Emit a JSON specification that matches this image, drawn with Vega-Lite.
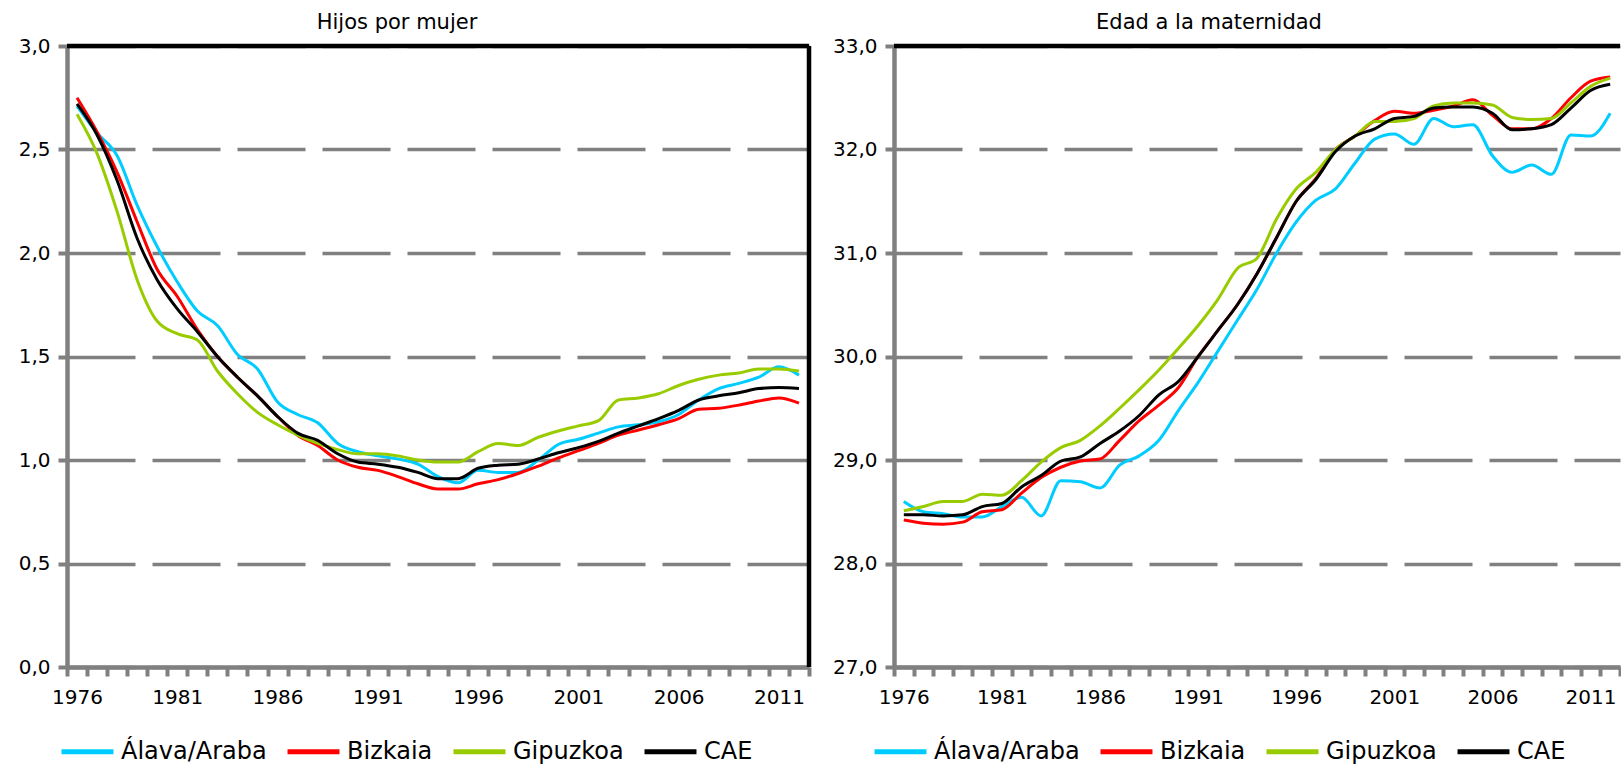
{
  "$schema": "https://vega.github.io/schema/vega-lite/v6.json",
  "background": "white",
  "padding": {"left": 18, "top": 12, "right": 0, "bottom": 0},
  "spacing": 20,
  "config": {
    "font": "DejaVu Sans",
    "view": {"stroke": null},
    "axis": {"labelFont": "DejaVu Sans", "labelFontSize": 20, "labelColor": "black", "domainColor": "#808080", "domainWidth": 4.5, "tickColor": "#808080", "tickWidth": 4, "tickSize": 9, "title": null},
    "legend": {"orient": "none", "direction": "horizontal", "title": null, "symbolType": "stroke", "symbolSize": 2700, "symbolStrokeWidth": 5, "labelFont": "DejaVu Sans", "labelFontSize": 24, "labelColor": "black", "labelOffset": 5, "columnPadding": 10, "labelLimit": 400},
    "title": {"font": "DejaVu Sans", "fontSize": 21, "fontWeight": "normal", "color": "black", "anchor": "middle", "frame": "group", "offset": 3}
  },
  "resolve": {"legend": {"color": "independent"}},
  "datasets": {
    "tfr": [
      {"year": 1976, "Álava/Araba": 2.71, "Bizkaia": 2.75, "Gipuzkoa": 2.67, "CAE": 2.72},
      {"year": 1977, "Álava/Araba": 2.58, "Bizkaia": 2.585, "Gipuzkoa": 2.48, "CAE": 2.57},
      {"year": 1978, "Álava/Araba": 2.47, "Bizkaia": 2.39, "Gipuzkoa": 2.20, "CAE": 2.35},
      {"year": 1979, "Álava/Araba": 2.23, "Bizkaia": 2.15, "Gipuzkoa": 1.87, "CAE": 2.07},
      {"year": 1980, "Álava/Araba": 2.03, "Bizkaia": 1.92, "Gipuzkoa": 1.67, "CAE": 1.87},
      {"year": 1981, "Álava/Araba": 1.86, "Bizkaia": 1.79, "Gipuzkoa": 1.61, "CAE": 1.73},
      {"year": 1982, "Álava/Araba": 1.72, "Bizkaia": 1.63, "Gipuzkoa": 1.58, "CAE": 1.62},
      {"year": 1983, "Álava/Araba": 1.65, "Bizkaia": 1.50, "Gipuzkoa": 1.43, "CAE": 1.50},
      {"year": 1984, "Álava/Araba": 1.51, "Bizkaia": 1.40, "Gipuzkoa": 1.32, "CAE": 1.40},
      {"year": 1985, "Álava/Araba": 1.44, "Bizkaia": 1.31, "Gipuzkoa": 1.23, "CAE": 1.31},
      {"year": 1986, "Álava/Araba": 1.28, "Bizkaia": 1.21, "Gipuzkoa": 1.17, "CAE": 1.21},
      {"year": 1987, "Álava/Araba": 1.22, "Bizkaia": 1.12, "Gipuzkoa": 1.12, "CAE": 1.13},
      {"year": 1988, "Álava/Araba": 1.18, "Bizkaia": 1.07, "Gipuzkoa": 1.08, "CAE": 1.095},
      {"year": 1989, "Álava/Araba": 1.08, "Bizkaia": 1.00, "Gipuzkoa": 1.05, "CAE": 1.03},
      {"year": 1990, "Álava/Araba": 1.04, "Bizkaia": 0.965, "Gipuzkoa": 1.03, "CAE": 0.99},
      {"year": 1991, "Álava/Araba": 1.02, "Bizkaia": 0.95, "Gipuzkoa": 1.03, "CAE": 0.98},
      {"year": 1992, "Álava/Araba": 1.005, "Bizkaia": 0.92, "Gipuzkoa": 1.02, "CAE": 0.965},
      {"year": 1993, "Álava/Araba": 0.98, "Bizkaia": 0.885, "Gipuzkoa": 1.00, "CAE": 0.94},
      {"year": 1994, "Álava/Araba": 0.92, "Bizkaia": 0.86, "Gipuzkoa": 0.99, "CAE": 0.91},
      {"year": 1995, "Álava/Araba": 0.89, "Bizkaia": 0.86, "Gipuzkoa": 0.99, "CAE": 0.91},
      {"year": 1996, "Álava/Araba": 0.95, "Bizkaia": 0.885, "Gipuzkoa": 1.04, "CAE": 0.96},
      {"year": 1997, "Álava/Araba": 0.94, "Bizkaia": 0.905, "Gipuzkoa": 1.08, "CAE": 0.975},
      {"year": 1998, "Álava/Araba": 0.94, "Bizkaia": 0.935, "Gipuzkoa": 1.07, "CAE": 0.98},
      {"year": 1999, "Álava/Araba": 1.00, "Bizkaia": 0.97, "Gipuzkoa": 1.11, "CAE": 1.005},
      {"year": 2000, "Álava/Araba": 1.075, "Bizkaia": 1.01, "Gipuzkoa": 1.14, "CAE": 1.035},
      {"year": 2001, "Álava/Araba": 1.10, "Bizkaia": 1.045, "Gipuzkoa": 1.165, "CAE": 1.06},
      {"year": 2002, "Álava/Araba": 1.13, "Bizkaia": 1.08, "Gipuzkoa": 1.19, "CAE": 1.09},
      {"year": 2003, "Álava/Araba": 1.16, "Bizkaia": 1.12, "Gipuzkoa": 1.29, "CAE": 1.13},
      {"year": 2004, "Álava/Araba": 1.17, "Bizkaia": 1.145, "Gipuzkoa": 1.30, "CAE": 1.165},
      {"year": 2005, "Álava/Araba": 1.185, "Bizkaia": 1.17, "Gipuzkoa": 1.32, "CAE": 1.20},
      {"year": 2006, "Álava/Araba": 1.22, "Bizkaia": 1.20, "Gipuzkoa": 1.36, "CAE": 1.24},
      {"year": 2007, "Álava/Araba": 1.29, "Bizkaia": 1.245, "Gipuzkoa": 1.39, "CAE": 1.29},
      {"year": 2008, "Álava/Araba": 1.345, "Bizkaia": 1.25, "Gipuzkoa": 1.41, "CAE": 1.31},
      {"year": 2009, "Álava/Araba": 1.37, "Bizkaia": 1.265, "Gipuzkoa": 1.42, "CAE": 1.325},
      {"year": 2010, "Álava/Araba": 1.40, "Bizkaia": 1.285, "Gipuzkoa": 1.44, "CAE": 1.345},
      {"year": 2011, "Álava/Araba": 1.45, "Bizkaia": 1.30, "Gipuzkoa": 1.44, "CAE": 1.35},
      {"year": 2012, "Álava/Araba": 1.41, "Bizkaia": 1.275, "Gipuzkoa": 1.43, "CAE": 1.345}
    ],
    "age": [
      {"year": 1976, "Álava/Araba": 28.60, "Bizkaia": 28.42, "Gipuzkoa": 28.51, "CAE": 28.47},
      {"year": 1977, "Álava/Araba": 28.50, "Bizkaia": 28.39, "Gipuzkoa": 28.55, "CAE": 28.47},
      {"year": 1978, "Álava/Araba": 28.48, "Bizkaia": 28.38, "Gipuzkoa": 28.60, "CAE": 28.46},
      {"year": 1979, "Álava/Araba": 28.45, "Bizkaia": 28.40, "Gipuzkoa": 28.60, "CAE": 28.47},
      {"year": 1980, "Álava/Araba": 28.45, "Bizkaia": 28.50, "Gipuzkoa": 28.67, "CAE": 28.55},
      {"year": 1981, "Álava/Araba": 28.55, "Bizkaia": 28.52, "Gipuzkoa": 28.66, "CAE": 28.58},
      {"year": 1982, "Álava/Araba": 28.64, "Bizkaia": 28.68, "Gipuzkoa": 28.80, "CAE": 28.74},
      {"year": 1983, "Álava/Araba": 28.46, "Bizkaia": 28.83, "Gipuzkoa": 28.98, "CAE": 28.85},
      {"year": 1984, "Álava/Araba": 28.80, "Bizkaia": 28.93, "Gipuzkoa": 29.12, "CAE": 28.99},
      {"year": 1985, "Álava/Araba": 28.79, "Bizkaia": 28.99, "Gipuzkoa": 29.19, "CAE": 29.03},
      {"year": 1986, "Álava/Araba": 28.73, "Bizkaia": 29.01, "Gipuzkoa": 29.33, "CAE": 29.16},
      {"year": 1987, "Álava/Araba": 28.95, "Bizkaia": 29.19, "Gipuzkoa": 29.50, "CAE": 29.28},
      {"year": 1988, "Álava/Araba": 29.04, "Bizkaia": 29.38, "Gipuzkoa": 29.68, "CAE": 29.43},
      {"year": 1989, "Álava/Araba": 29.19, "Bizkaia": 29.53, "Gipuzkoa": 29.87, "CAE": 29.63},
      {"year": 1990, "Álava/Araba": 29.48, "Bizkaia": 29.70, "Gipuzkoa": 30.08, "CAE": 29.76},
      {"year": 1991, "Álava/Araba": 29.75, "Bizkaia": 30.00, "Gipuzkoa": 30.30, "CAE": 30.00},
      {"year": 1992, "Álava/Araba": 30.05, "Bizkaia": 30.25, "Gipuzkoa": 30.55, "CAE": 30.25},
      {"year": 1993, "Álava/Araba": 30.35, "Bizkaia": 30.50, "Gipuzkoa": 30.85, "CAE": 30.50},
      {"year": 1994, "Álava/Araba": 30.65, "Bizkaia": 30.80, "Gipuzkoa": 30.95, "CAE": 30.80},
      {"year": 1995, "Álava/Araba": 31.00, "Bizkaia": 31.15, "Gipuzkoa": 31.33, "CAE": 31.15},
      {"year": 1996, "Álava/Araba": 31.30, "Bizkaia": 31.50, "Gipuzkoa": 31.62, "CAE": 31.50},
      {"year": 1997, "Álava/Araba": 31.51, "Bizkaia": 31.72, "Gipuzkoa": 31.78, "CAE": 31.71},
      {"year": 1998, "Álava/Araba": 31.62, "Bizkaia": 32.00, "Gipuzkoa": 32.00, "CAE": 31.98},
      {"year": 1999, "Álava/Araba": 31.87, "Bizkaia": 32.13, "Gipuzkoa": 32.13, "CAE": 32.13},
      {"year": 2000, "Álava/Araba": 32.10, "Bizkaia": 32.28, "Gipuzkoa": 32.27, "CAE": 32.20},
      {"year": 2001, "Álava/Araba": 32.15, "Bizkaia": 32.37, "Gipuzkoa": 32.27, "CAE": 32.30},
      {"year": 2002, "Álava/Araba": 32.05, "Bizkaia": 32.35, "Gipuzkoa": 32.30, "CAE": 32.32},
      {"year": 2003, "Álava/Araba": 32.30, "Bizkaia": 32.38, "Gipuzkoa": 32.42, "CAE": 32.40},
      {"year": 2004, "Álava/Araba": 32.22, "Bizkaia": 32.42, "Gipuzkoa": 32.45, "CAE": 32.41},
      {"year": 2005, "Álava/Araba": 32.24, "Bizkaia": 32.48, "Gipuzkoa": 32.45, "CAE": 32.41},
      {"year": 2006, "Álava/Araba": 31.94, "Bizkaia": 32.33, "Gipuzkoa": 32.43, "CAE": 32.35},
      {"year": 2007, "Álava/Araba": 31.78, "Bizkaia": 32.20, "Gipuzkoa": 32.31, "CAE": 32.19},
      {"year": 2008, "Álava/Araba": 31.85, "Bizkaia": 32.20, "Gipuzkoa": 32.29, "CAE": 32.20},
      {"year": 2009, "Álava/Araba": 31.76, "Bizkaia": 32.30, "Gipuzkoa": 32.30, "CAE": 32.24},
      {"year": 2010, "Álava/Araba": 32.14, "Bizkaia": 32.50, "Gipuzkoa": 32.45, "CAE": 32.40},
      {"year": 2011, "Álava/Araba": 32.13, "Bizkaia": 32.66, "Gipuzkoa": 32.61, "CAE": 32.57},
      {"year": 2012, "Álava/Araba": 32.35, "Bizkaia": 32.70, "Gipuzkoa": 32.69, "CAE": 32.63}
    ]
  },
  "hconcat": [
    {
      "width": 742,
      "height": 621,
      "title": {"text": "Hijos por mujer", "dx": -41},
      "layer": [
        {
          "data": {"name": "tfr"},
          "transform": [{"fold": ["Álava/Araba", "Bizkaia", "Gipuzkoa", "CAE"], "as": ["region", "value"]}],
          "mark": {"type": "line", "strokeWidth": 3, "interpolate": "monotone"},
          "encoding": {
            "x": {"field": "year", "type": "ordinal", "bandPosition": 0.5,
                  "scale": {"type": "band", "paddingInner": 0, "paddingOuter": 0},
                  "axis": {"tickBand": "extent", "labelAngle": 0, "labelOverlap": false, "labelPadding": 11, "grid": false,
                           "labelExpr": "(datum.value - 1976) % 5 == 0 ? datum.label : ''"}},
            "y": {"field": "value", "type": "quantitative",
                  "scale": {"domain": [0, 3], "nice": false, "zero": false},
                  "axis": {"values": [0, 0.5, 1, 1.5, 2, 2.5, 3], "labelPadding": 8,
                           "labelExpr": "replace(format(datum.value, '.1f'), '.', ',')",
                           "grid": true, "gridColor": "#808080", "gridWidth": 3.5, "gridDash": [68, 17]}},
            "color": {"field": "region", "type": "nominal",
                      "scale": {"domain": ["Álava/Araba", "Bizkaia", "Gipuzkoa", "CAE"], "range": ["#00ccff", "#ff0000", "#99cc00", "#000000"]},
                      "legend": {"legendX": -8, "legendY": 677}}
          }
        },
        {
          "data": {"values": [{}]},
          "mark": {"type": "rule", "color": "black", "strokeWidth": 4.5},
          "encoding": {"y": {"datum": 3, "type": "quantitative"}}
        },
        {
          "data": {"values": [{}]},
          "mark": {"type": "rule", "color": "black", "strokeWidth": 4.5},
          "encoding": {"x": {"datum": 2012, "type": "ordinal", "bandPosition": 1}}
        }
      ]
    },
    {
      "width": 726,
      "height": 621,
      "title": {"text": "Edad a la maternidad", "dx": -48},
      "layer": [
        {
          "data": {"name": "age"},
          "transform": [{"fold": ["Álava/Araba", "Bizkaia", "Gipuzkoa", "CAE"], "as": ["region", "value"]}],
          "mark": {"type": "line", "strokeWidth": 3, "interpolate": "monotone"},
          "encoding": {
            "x": {"field": "year", "type": "ordinal", "bandPosition": 0.5,
                  "scale": {"type": "band", "paddingInner": 0, "paddingOuter": 0},
                  "axis": {"tickBand": "extent", "labelAngle": 0, "labelOverlap": false, "labelPadding": 11, "grid": false,
                           "labelExpr": "(datum.value - 1976) % 5 == 0 ? datum.label : ''"}},
            "y": {"field": "value", "type": "quantitative",
                  "scale": {"domain": [27, 33], "nice": false, "zero": false},
                  "axis": {"values": [27, 28, 29, 30, 31, 32, 33], "labelPadding": 8,
                           "labelExpr": "replace(format(datum.value, '.1f'), '.', ',')",
                           "grid": true, "gridColor": "#808080", "gridWidth": 3.5, "gridDash": [68, 17]}},
            "color": {"field": "region", "type": "nominal",
                      "scale": {"domain": ["Álava/Araba", "Bizkaia", "Gipuzkoa", "CAE"], "range": ["#00ccff", "#ff0000", "#99cc00", "#000000"]},
                      "legend": {"legendX": -22, "legendY": 677}}
          }
        },
        {
          "data": {"values": [{}]},
          "mark": {"type": "rule", "color": "black", "strokeWidth": 4.5},
          "encoding": {"y": {"datum": 33, "type": "quantitative"}}
        }
      ]
    }
  ]
}
